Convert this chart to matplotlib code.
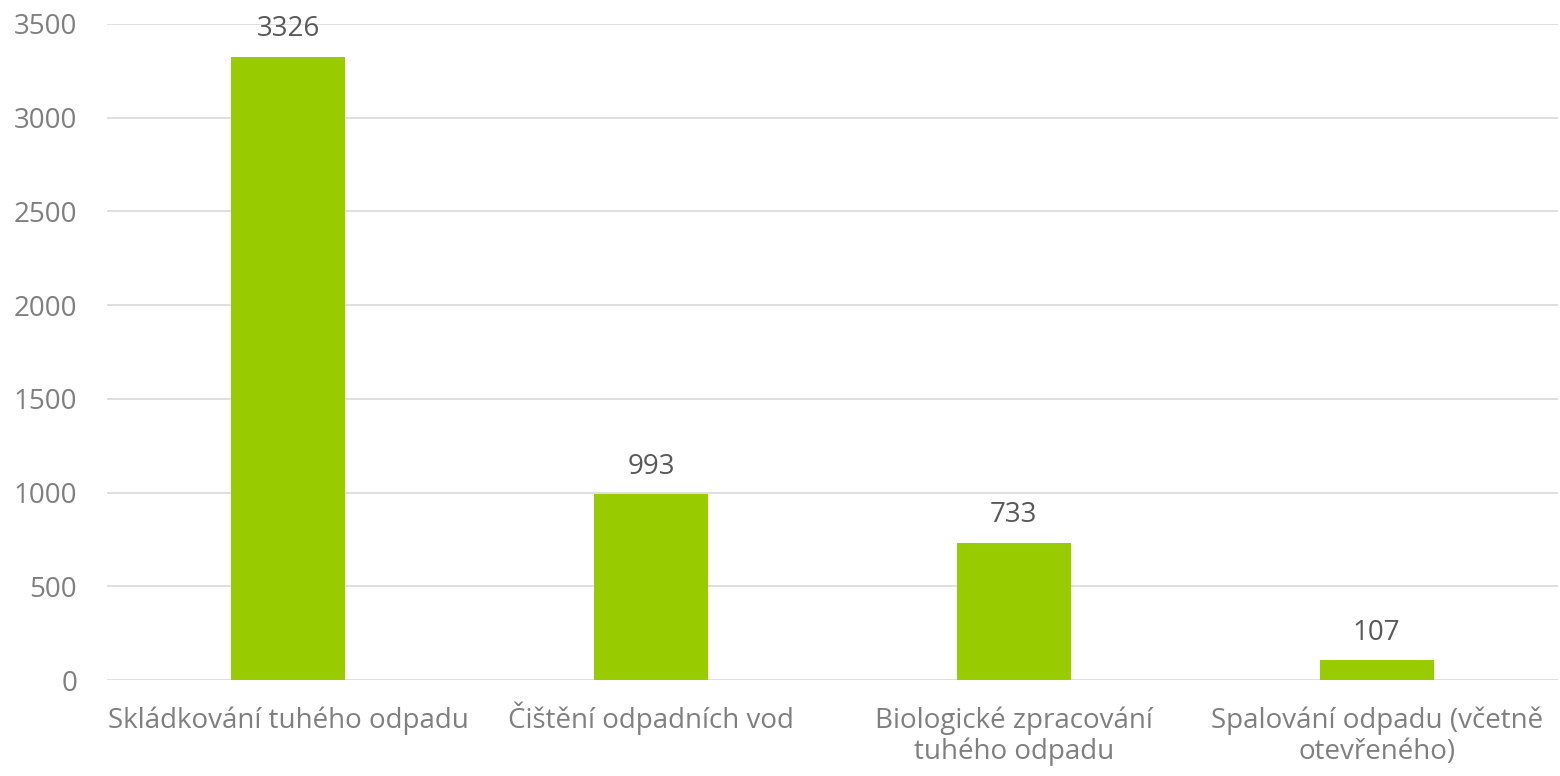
import matplotlib.pyplot as plt
import matplotlib.transforms as mtransforms
import numpy as np

plt.rcParams['font.family'] = ['Open Sans', 'DejaVu Sans']

# data
kategorie = ['Skládkování tuhého odpadu', 'Čištění odpadních vod',
             'Biologické zpracování\ntuhého odpadu', 'Spalování odpadu (včetně\notevřeného)']
hodnoty = [3326, 993, 733, 107]

fig = plt.figure(figsize=(15.6, 7.76), dpi=100)
ax = fig.add_axes([0.0686, 0.1237, 0.9301, 0.8454])

x = np.arange(len(kategorie))
bars = ax.bar(x, hodnoty, width=0.314, color='#99CC00', zorder=3)

# popisky hodnot nad sloupci
for b, v in zip(bars, hodnoty):
    ax.annotate(str(v), (b.get_x() + b.get_width() / 2, v), xytext=(0, 14.5),
                textcoords='offset points', ha='center', va='baseline',
                fontsize=20, color='#595959')

ax.set_xlim(-0.5, len(kategorie) - 0.5)
ax.set_ylim(0, 3500)
ax.set_yticks(np.arange(0, 3501, 500))
ax.set_xticks(x)
ax.set_xticklabels([])
ax.tick_params(axis='both', length=0)
ax.tick_params(axis='y', labelsize=20, labelcolor='#7F7F7F', pad=21.5)

# popisky kategorii - kazdy radek zvlast, zarovnane na uctarii
for xi, txt in zip(x, kategorie):
    for i, radek in enumerate(txt.split('\n')):
        posun = (48 + i * 31) / 100
        tr = ax.get_xaxis_transform() + mtransforms.ScaledTranslation(0, -posun, fig.dpi_scale_trans)
        ax.text(xi, 0, radek, transform=tr, ha='center', va='baseline',
                fontsize=20, color='#7F7F7F')

ax.grid(axis='y', color='#D9D9D9', linewidth=1.2, zorder=0)
for s in ax.spines.values():
    s.set_visible(False)

fig.savefig('out.png', dpi=100)
